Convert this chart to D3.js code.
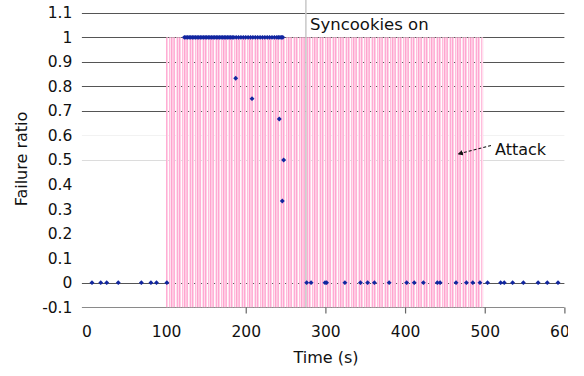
<!DOCTYPE html>
<html><head><meta charset="utf-8">
<script src="https://cdn.jsdelivr.net/npm/d3@7"></script>
<style>
html,body{margin:0;padding:0;background:#fff;}
svg{display:block;font-family:"DejaVu Sans",Verdana,sans-serif;}
</style></head>
<body>
<svg id="chart" width="584" height="376"></svg>
<script>
// ---- data ----
const xTicks = [0, 100, 200, 300, 400, 500, 600];
const yTicks = [-0.1, 0, 0.1, 0.2, 0.3, 0.4, 0.5, 0.6, 0.7, 0.8, 0.9, 1, 1.1];
const attackStart = 100;
const attackEnd = 498;
const syncookiesOn = 275.5;
const zeroTimes = [7, 18, 25.5, 40, 69, 81, 88, 101, 276.5, 282, 299.5, 301.5, 324.5, 344, 353, 361.5,
  380, 402, 411.5, 423, 440.5, 444, 464, 477, 485, 494, 503.5, 520, 524.5, 535, 548.5, 567, 578.5, 592];
const oneTimes = [123, 125, 127, 129, 131, 133, 135, 137, 139, 141, 143, 145, 147, 149, 151, 153, 155,
  157, 159, 161, 163, 165, 167, 169, 171, 173, 175, 177, 179, 181, 183, 185, 188, 191, 194, 197, 200,
  203, 206, 209, 212, 215, 218, 221, 224, 227, 230, 233, 236, 239, 241, 243, 245, 246.5];
const partialTimes = [187.4, 207.9, 242.1, 247.6, 245.9];
const partialValues = [0.833, 0.75, 0.667, 0.5, 0.333];

const points = []
  .concat(zeroTimes.map(t => ({t, v: 0})))
  .concat(oneTimes.map(t => ({t, v: 1})))
  .concat(partialTimes.map((t, i) => ({t, v: partialValues[i]})));

// ---- layout ----
const svg = d3.select("#chart");
const x = d3.scaleLinear().domain([0, 600]).range([86.4, 564.4]);
const y = d3.scaleLinear().domain([-0.1, 1.1]).range([307.2, 12.8]);
const fmt = d => String(+d.toFixed(1));

const defs = svg.append("defs");
defs.append("clipPath").attr("id", "imgclip")
  .append("rect").attr("x", 0).attr("y", 0).attr("width", 568).attr("height", 376);

const stripeCols = ["#ffa3cf", "#ffd3e8", null, "#ffb8da", "#ffe4f0", "#ff9fcc", "#ffd0e6",
  "#ffc2df", "#ffb0d5", null, "#ffdcec", "#ffa8d2", "#ffe0ee"];
const pat = defs.append("pattern").attr("id", "stripes")
  .attr("patternUnits", "userSpaceOnUse")
  .attr("x", x(attackStart)).attr("y", 0)
  .attr("width", stripeCols.length).attr("height", 10);
stripeCols.forEach((c, i) => {
  if (c) pat.append("rect").attr("x", i).attr("y", 0).attr("width", 1).attr("height", 10).attr("fill", c);
});

const g = svg.append("g").attr("clip-path", "url(#imgclip)");

// gridlines
const gridColor = v => {
  if (v >= 0.65) return "#555";
  if (Math.abs(v) < 1e-9) return "#555";
  if (Math.abs(v - 0.5) < 1e-9) return "#dcdcdc";
  if (Math.abs(v - 0.6) < 1e-9) return "#f2f2f2";
  if (v < 0) return "#8a8a8a";
  return "none";
};
g.append("g").selectAll("line").data(yTicks).join("line")
  .attr("x1", x(0) - 4.5).attr("x2", x(600))
  .attr("y1", d => Math.round(y(d)) + 0.5).attr("y2", d => Math.round(y(d)) + 0.5)
  .attr("stroke", gridColor).attr("stroke-width", 1.2);

// attack shading
g.append("rect")
  .attr("x", x(attackStart)).attr("width", x(attackEnd) - x(attackStart))
  .attr("y", y(1)).attr("height", y(-0.1) - y(1))
  .attr("fill", "url(#stripes)");

// syncookies vertical line
g.append("line")
  .attr("x1", x(syncookiesOn)).attr("x2", x(syncookiesOn))
  .attr("y1", 0).attr("y2", y(-0.1))
  .attr("stroke", "#c8c8c8").attr("stroke-width", 1.5);

// x axis
const xAxis = g.append("g").attr("transform", `translate(0,${Math.round(y(-0.1)) + 0.5})`)
  .call(d3.axisBottom(x).tickValues(xTicks).tickFormat(fmt).tickSize(6).tickPadding(12));
xAxis.select(".domain").remove();
xAxis.selectAll(".tick line").attr("stroke", "#666").attr("stroke-width", 1.2)
  .attr("display", d => d < 200 ? "none" : null);
xAxis.selectAll(".tick text").attr("font-size", 15.5).attr("fill", "#111")
  .attr("font-family", "DejaVu Sans, Verdana, sans-serif");

// y axis labels
const yAxis = g.append("g").attr("transform", `translate(${x(0) - 4},0)`)
  .call(d3.axisLeft(y).tickValues(yTicks).tickFormat(fmt).tickSize(0).tickPadding(10));
yAxis.select(".domain").remove();
yAxis.selectAll(".tick text").attr("font-size", 15.5).attr("fill", "#111")
  .attr("font-family", "DejaVu Sans, Verdana, sans-serif");

// points (small diamonds)
g.append("g").selectAll("path").data(points).join("path")
  .attr("transform", d => `translate(${x(d.t)},${y(d.v)}) rotate(45)`)
  .attr("d", d3.symbol(d3.symbolSquare, 12))
  .attr("fill", "#1126a0");

// annotations
g.append("text").attr("x", 310).attr("y", 30).attr("font-size", 16.5).attr("fill", "#111")
  .text("Syncookies on");

defs.append("marker").attr("id", "arrow").attr("viewBox", "0 0 10 10")
  .attr("refX", 9).attr("refY", 5).attr("markerWidth", 5).attr("markerHeight", 5)
  .attr("orient", "auto-start-reverse")
  .append("path").attr("d", "M0,0 L10,5 L0,10 z").attr("fill", "#111");
g.append("line").attr("x1", 491).attr("y1", 145.5).attr("x2", 458).attr("y2", 154)
  .attr("stroke", "#111").attr("stroke-width", 1.1).attr("stroke-dasharray", "3,2")
  .attr("marker-end", "url(#arrow)");
g.append("text").attr("x", 495).attr("y", 155).attr("font-size", 16).attr("fill", "#111")
  .text("Attack");

// axis titles
g.append("text").attr("x", 326).attr("y", 363).attr("text-anchor", "middle")
  .attr("font-size", 16).attr("fill", "#111").text("Time (s)");
g.append("text").attr("transform", "translate(27,159) rotate(-90)").attr("text-anchor", "middle")
  .attr("font-size", 16).attr("fill", "#111").text("Failure ratio");
</script>
</body></html>
